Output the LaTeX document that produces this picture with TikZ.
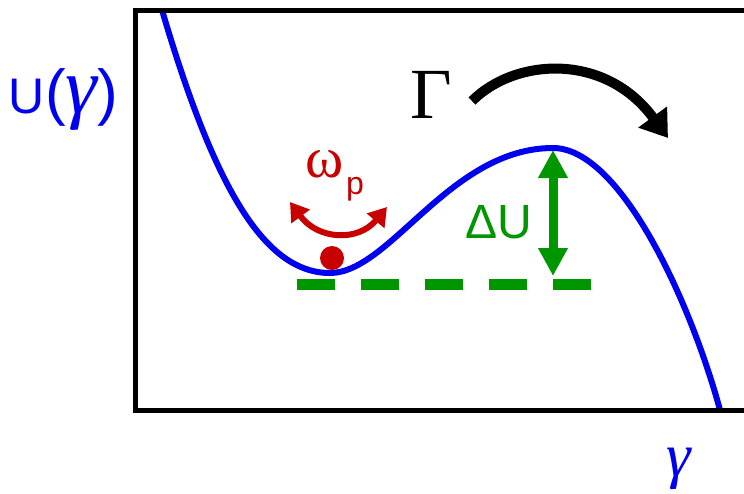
\documentclass[tikz,border=0pt]{standalone}
\usepackage{fontspec}
\setmainfont{Liberation Sans}
\newfontfamily\serif{Liberation Serif}
\usetikzlibrary{arrows.meta}
\definecolor{cblue}{RGB}{0,0,240}
\definecolor{cred}{RGB}{200,0,0}
\definecolor{cgreen}{RGB}{0,150,0}
\tikzset{
  lbl/.style={inner sep=0pt, outer sep=0pt, anchor=base west},
  frameline/.style={line width=5pt, line join=miter, black},
  potential/.style={line width=6pt, cblue},
}
\begin{document}
\begin{tikzpicture}[x=1pt,y=-1pt]
\useasboundingbox (0,0) rectangle (744,493);
% potential curve
\coordinate (c0) at (162,10);
\coordinate (cmin) at (330,273);
\coordinate (cmax) at (553,148);
\coordinate (c3) at (720,410);
\draw[potential] (c0) .. controls (215,190) and (265,273) .. (cmin)
  .. controls (390,273) and (450,148) .. (cmax)
  .. controls (620,148) and (690,300) .. (c3);
% frame
\draw[frameline] (744,10) -| (135,410) -- (744,410);
% dashed level
\coordinate (d1) at (297,284);
\coordinate (d2) at (592,284);
\draw[cgreen, line width=11pt, dash pattern=on 38pt off 26pt] (d1) -- (d2);
% barrier arrow
\coordinate (b1) at (553,150);
\coordinate (b2) at (553,276);
\draw[cgreen, line width=9pt, {Triangle[length=28pt,width=28pt]}-{Triangle[length=28pt,width=28pt]}] (b1) -- (b2);
% escape arrow
\coordinate (g1) at (472,101);
\coordinate (g2) at (668,138);
\draw[black, line width=10pt, -{Triangle[length=26pt,width=34pt]}] (g1) .. controls (515,58) and (605,52) .. (g2);
% oscillation arrow
\coordinate (r1) at (290,202);
\coordinate (r2) at (387,207);
\draw[cred, line width=6pt, {Triangle[length=18pt,width=22pt]}-{Triangle[length=18pt,width=22pt]}] (r1) .. controls (318,240) and (358,242) .. (r2);
% particle
\node[circle, fill=cred, minimum size=24pt, inner sep=0pt] (dot) at (332,258) {};
% labels
\node[lbl, cblue] (ulab) at (9,113) {\fontsize{50}{50}\selectfont U\fontsize{62}{62}\selectfont(\fontsize{80}{80}\serif\itshape γ\fontsize{62}{62}\selectfont\upshape\rmfamily)};
\node[lbl, cblue] (glab) at (666,476) {\fontsize{62}{62}\serif\itshape γ};
\node[lbl, black] (Gam) at (410,118) {\fontsize{72}{72}\serif Γ};
\node[lbl, cred] (om) at (305,177) {\fontsize{58}{58}\serif ω};
\node[lbl, cred] (p) at (346,194) {\fontsize{32}{32}\selectfont p};
\node[lbl, cgreen] (dU) at (465,238) {\fontsize{48}{48}\selectfont ΔU};
\end{tikzpicture}
\end{document}
